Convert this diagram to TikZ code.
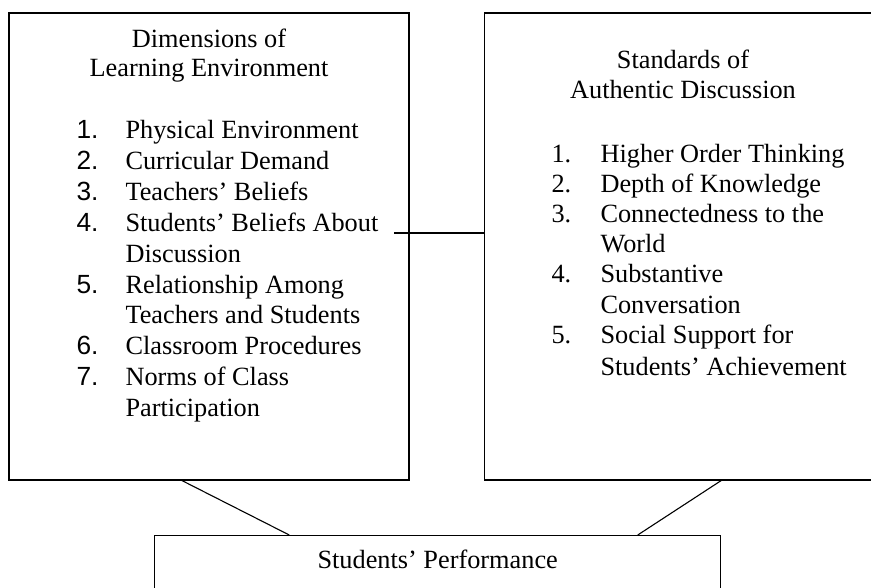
\documentclass[tikz,border=0pt]{standalone}
\usepackage{fontspec}
\setmainfont{Liberation Serif}
\newfontfamily\numfont{Liberation Sans}
\usetikzlibrary{calc,positioning}

\begin{document}
\begin{tikzpicture}[x=1pt,y=-1pt,line width=1.1pt,
                    font=\fontsize{26.3}{30.6}\selectfont,
                    panel/.style={draw,inner sep=0pt,minimum width=400pt,minimum height=467pt},
                    item/.style={anchor=base west,inner sep=0pt}]

  \useasboundingbox (0,0) rectangle (871,588);

  % the three boxes
  \node[panel] (dim) at (209,246.5) {};
  \node[panel]         (std) [right=74pt of dim] {};
  \node[draw,inner sep=0pt,minimum width=566pt,minimum height=90pt,anchor=north west] (perf) at (154,535) {};

  % headings
  \node[anchor=base,inner sep=0pt] (dimA) at (209,48) {Dimensions of};
  \node[anchor=base,inner sep=0pt] (dimB) at (209,77) {Learning Environment};
  \node[anchor=base,inner sep=0pt] (stdA) at (683,69) {Standards of};
  \node[anchor=base,inner sep=0pt] (stdB) at (683,99) {Authentic Discussion};
  \node[item] (perfT) at (317,568) {Students’ Performance};

  % left list
  \foreach \y/\n/\t [count=\i] in {139/1./Physical Environment,170/2./Curricular Demand,
        201/3./Teachers’ Beliefs,232/4./Students’ Beliefs About,263//Discussion,
        294/5./Relationship Among,324//Teachers and Students,355/6./Classroom Procedures,
        385/7./Norms of Class,416//Participation}
  {
    \node[item] (dimN\i) at (76,\y) {\numfont\n};
    \node[item] (dimT\i) at (125,\y) {\t};
  }

  % right list
  \foreach \y/\n/\t [count=\i] in {163/1./Higher Order Thinking,193/2./Depth of Knowledge,
        223/3./Connectedness to the,253//World,283/4./Substantive,314//Conversation,
        344/5./Social Support for,375//Students’ Achievement}
  {
    \node[item] (stdN\i) at (551,\y) {\n};
    \node[item] (stdT\i) at (600,\y) {\t};
  }

  % connectors
  \coordinate (tie) at (394,233);
  \draw (tie) -- (tie -| std.west);
  \draw ($(dim.south west)!0.4325!(dim.south east)$) -- ($(perf.north west)!0.2385!(perf.north east)$);
  \draw ($(std.south west)!0.5925!(std.south east)$) -- ($(perf.north west)!0.853!(perf.north east)$);
\end{tikzpicture}
\end{document}
